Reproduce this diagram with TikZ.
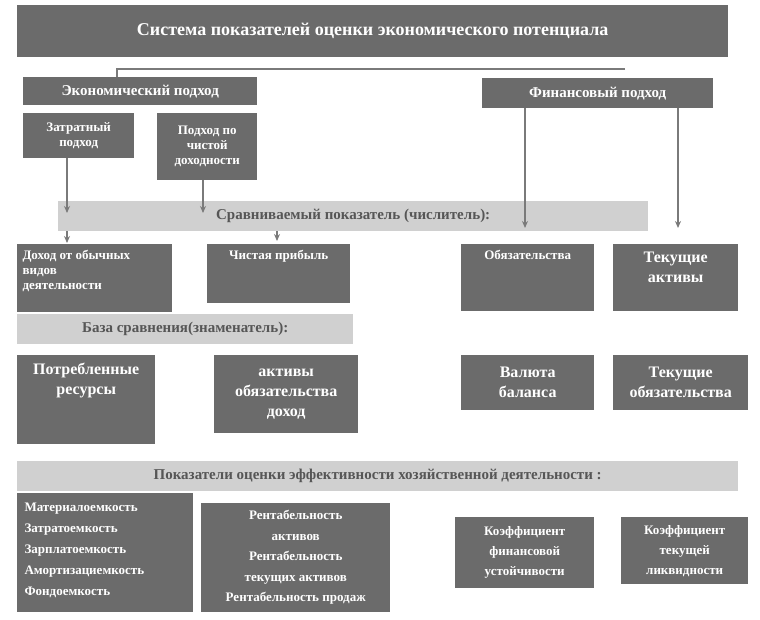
\documentclass[tikz,border=0pt]{standalone}
\usepackage{fontspec}
\setmainfont{Liberation Serif}
\usetikzlibrary{arrows.meta}
\definecolor{boxgray}{HTML}{6B6B6B}
\definecolor{bandgray}{HTML}{D0D0D0}
\definecolor{linegray}{HTML}{7A7A7A}
\tikzset{
  dbox/.style={rectangle, fill=boxgray, inner sep=0pt, anchor=north west},
  band/.style={rectangle, fill=bandgray, inner sep=0pt, anchor=north west},
  wtxt/.style={text=white, font=\bfseries\fontsize{13}{15}\selectfont, align=center},
  btxt/.style={text=white, font=\bfseries\fontsize{16}{20}\selectfont, align=center},
  gtxt/.style={text=boxgray!80!black, font=\bfseries\fontsize{15}{18}\selectfont},
  arr/.style={linegray, line width=1.5pt, -{Stealth[length=7pt,width=6pt]}}
}
\begin{document}
\begin{tikzpicture}[x=1pt, y=-1pt]
    \useasboundingbox (0,0) rectangle (760,619);

    % top part
    \node[dbox, minimum width=711, minimum height=52, text=white, font=\bfseries\fontsize{18}{20}\selectfont] (title) at (17,5) {Система показателей оценки экономического потенциала};
    \node[dbox, minimum width=234, minimum height=28, text=white, font=\bfseries\fontsize{15}{18}\selectfont] (econ) at (23,77) {Экономический подход};
    \node[dbox, minimum width=231, minimum height=30, text=white, font=\bfseries\fontsize{15}{18}\selectfont] (fin) at (482,78) {Финансовый подход};
    \coordinate (splitL) at (117,69);
    \coordinate (splitR) at (625,69);
    \draw[linegray, line width=1.5pt] (splitR) -- (splitL) -- (splitL |- econ.north);

    \node[dbox, minimum width=111, minimum height=45, wtxt] (zatr) at (23,113) {Затратный\\подход};
    \node[dbox, minimum width=100, minimum height=67, wtxt] (chist) at (157,113) {Подход по\\чистой\\доходности};

    % numerator band
    \node[band, minimum width=590, minimum height=30, gtxt] (cmp) at (58,201) {Сравниваемый показатель (числитель):};
    \coordinate (a1) at (67,213);
    \coordinate (a2) at (203,213);
    \coordinate (a3) at (525,228);
    \coordinate (a4) at (678,228);
    \draw[arr] (zatr.south -| a1) -- (a1);
    \draw[arr] (chist.south -| a2) -- (a2);
    \draw[arr] (fin.south -| a3) -- (a3);
    \draw[arr] (fin.south -| a4) -- (a4);

    \node[dbox, minimum width=155, minimum height=68] (dohod) at (17,244) {};
    \node[wtxt, align=left, anchor=north west] at ([xshift=2, yshift=-3]dohod.north west) {Доход от обычных\\видов\\деятельности};
    \node[dbox, minimum width=143, minimum height=59] (prib) at (207,244) {};
    \node[wtxt, anchor=north] at ([yshift=-3]prib.north) {Чистая прибыль};
    \node[dbox, minimum width=133, minimum height=67] (obyaz) at (461,244) {};
    \node[wtxt, anchor=north] at ([yshift=-3]obyaz.north) {Обязательства};
    \node[dbox, minimum width=125, minimum height=67] (tekakt) at (613,244) {};
    \node[btxt, anchor=north] at ([yshift=-4]tekakt.north) {Текущие\\активы};
    \coordinate (b1) at (67,243);
    \coordinate (b2) at (277,241);
    \draw[arr] (cmp.south -| b1) -- (b1);
    \draw[arr] (cmp.south -| b2) -- (b2);

    % denominator band
    \node[band, minimum width=336, minimum height=30, gtxt] (base) at (17,314) {База сравнения(знаменатель):};
    \node[dbox, minimum width=138, minimum height=89] (potr) at (17,355) {};
    \node[btxt, anchor=north] at ([yshift=-5]potr.north) {Потребленные\\ресурсы};
    \node[dbox, minimum width=144, minimum height=78, btxt] (aod) at (214,355) {активы\\обязательства\\доход};
    \node[dbox, minimum width=133, minimum height=55, btxt] (val) at (461,355) {Валюта\\баланса};
    \node[dbox, minimum width=135, minimum height=55, btxt] (tekob) at (613,355) {Текущие\\обязательства};

    % indicators
    \node[band, minimum width=721, minimum height=30, gtxt] (eff) at (17,461) {Показатели оценки эффективности хозяйственной деятельности :};
    \node[dbox, minimum width=176, minimum height=119] (emk) at (17,493) {};
    \node[wtxt, align=left, anchor=north west, font=\bfseries\fontsize{13}{21}\selectfont] at ([xshift=4, yshift=-6]emk.north west) {Материалоемкость\\Затратоемкость\\Зарплатоемкость\\Амортизациемкость\\Фондоемкость};
    \node[dbox, minimum width=189, minimum height=109, wtxt, font=\bfseries\fontsize{13}{20.5}\selectfont] (rent) at (201,503) {Рентабельность\\активов\\Рентабельность\\текущих активов\\Рентабельность продаж};
    \node[dbox, minimum width=139, minimum height=71, wtxt, font=\bfseries\fontsize{13}{20}\selectfont] (kfu) at (455,517) {Коэффициент\\финансовой\\устойчивости};
    \node[dbox, minimum width=127, minimum height=67, wtxt, font=\bfseries\fontsize{13}{20}\selectfont] (ktl) at (621,517) {Коэффициент\\текущей\\ликвидности};
\end{tikzpicture}
\end{document}
